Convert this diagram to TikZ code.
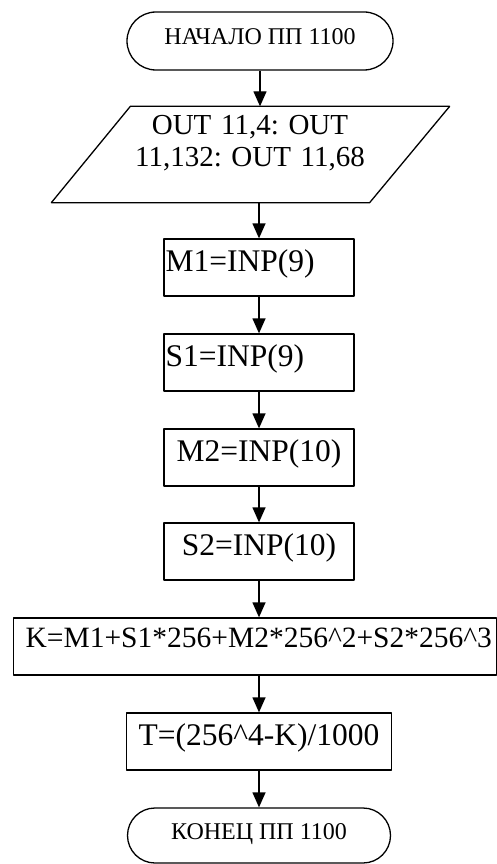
\documentclass[tikz,border=0pt]{standalone}
\usepackage{fontspec}
\setmainfont{Liberation Serif}
\usetikzlibrary{arrows.meta,shapes.misc}
\begin{document}
\frenchspacing
\begin{tikzpicture}[x=1pt,y=-1pt,line width=1.3pt,line join=round,>={Triangle[width=13pt,length=15pt]},
	term/.style={draw,rounded rectangle,minimum width=266pt,minimum height=58pt,inner sep=0pt,text height=16pt,text depth=9pt,font=\fontsize{24}{28}\selectfont},
	iobox/.style={rectangle,minimum width=238pt,inner sep=0pt,text width=236pt,align=center,text height=28pt,text depth=67pt,font=\fontsize{29}{32}\selectfont},
	proc/.style={draw,rectangle,minimum width=190pt,inner xsep=1.5pt,inner ysep=0pt,text height=32pt,text depth=25pt,font=\fontsize{31.5}{36}\selectfont},
	procl/.style={proc,text width=187pt,align=left}]
	\useasboundingbox (0,0) rectangle (497,864);
	% blocks
	\node[term] (start) at (260,41) {НАЧАЛО ПП 1100};
	\node[iobox] (io) at (250,154.5) {OUT 11,4: OUT\\11,132: OUT 11,68};
	\draw ([xshift=-79pt]io.south west) -- (io.north west) -- ([xshift=80pt]io.north east) -- (io.south east) -- cycle;
	\node[procl] (m1) at (259,267.5) {M1=INP(9)};
	\node[procl] (s1) at (259,362.5) {S1=INP(9)};
	\node[proc] (m2) at (259,457.5) {M2=INP(10)};
	\node[proc] (s2) at (259,551.5) {S2=INP(10)};
	\node[proc,minimum width=483pt,text width=474pt,align=right,inner xsep=4.5pt,text height=29pt,text depth=28pt,font=\fontsize{29.5}{34}\selectfont] (k) at (255,646.5)
		{K=M1+S1*256+M2*256\textasciicircum2+S2*256\textasciicircum3};
	\node[proc,minimum width=265pt] (t) at (259,741.5) {T=(256\textasciicircum4-K)/1000};
	\node[term,minimum width=263pt,minimum height=55pt] (stop) at (259,835.5) {КОНЕЦ ПП 1100};
	% arrows
	\draw[->] (start.south) -- (start.south |- io.north);
	\draw[->] (m1.north |- io.south) -- (m1.north);
	\draw[->] (m1) -- (s1);
	\draw[->] (s1) -- (m2);
	\draw[->] (m2) -- (s2);
	\draw[->] (s2.south) -- (s2.south |- k.north);
	\draw[->] (t.north |- k.south) -- (t.north);
	\draw[->] (t.south) -- (t.south |- stop.north);
\end{tikzpicture}
\end{document}
